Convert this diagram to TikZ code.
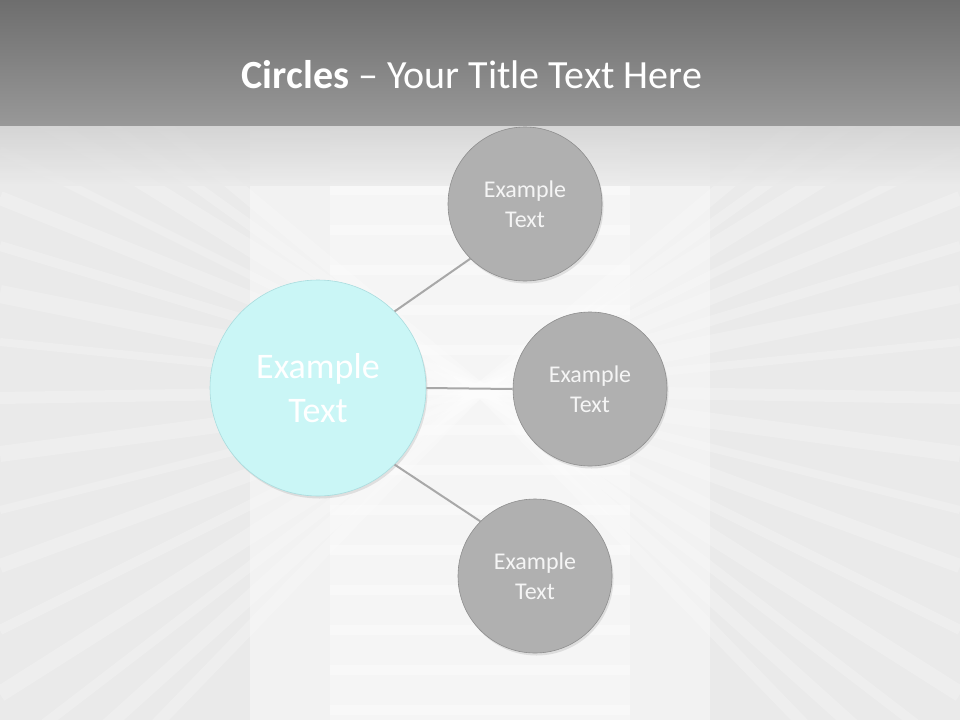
\documentclass[tikz,border=0pt]{standalone}
\usepackage{fontspec}
\setmainfont{Carlito}
\usetikzlibrary{shadows}
\definecolor{barTop}{HTML}{6E6E6E}
\definecolor{barBot}{HTML}{989898}
\definecolor{bgBase}{HTML}{EAEAEA}
\definecolor{bgLight}{HTML}{F6F6F6}
\definecolor{bgTop}{HTML}{CFCFCF}
\definecolor{aquaFill}{HTML}{CAF6F6}
\definecolor{aquaEdge}{HTML}{A9DCDE}
\definecolor{greyFill}{HTML}{B0B0B0}
\definecolor{greyEdge}{HTML}{8E8E8E}
\definecolor{linkGrey}{HTML}{A8A8A8}
\tikzset{
  bigcircle/.style={circle, minimum size=216pt, inner sep=0pt,
    fill=aquaFill, draw=aquaEdge, line width=0.6pt,
    drop shadow={opacity=0.2, shadow xshift=1.5pt, shadow yshift=-2.5pt},
    text=white, align=center, font=\fontsize{36}{44}\selectfont},
  smallcircle/.style={circle, minimum size=154pt, inner sep=0pt,
    fill=greyFill, draw=greyEdge, line width=0.6pt,
    drop shadow={opacity=0.2, shadow xshift=1.5pt, shadow yshift=-2.5pt},
    text=white!96!black, align=center, font=\fontsize{24}{30}\selectfont},
  link/.style={draw=linkGrey, line width=2pt},
  streak/.style={white, line cap=butt},
}
\begin{document}
\begin{tikzpicture}[x=1pt, y=-1pt]
\useasboundingbox (0,0) rectangle (960,720);
% background
\fill[bgBase] (0,125) rectangle (960,720);
\begin{scope}
\clip (0,125) rectangle (960,720);
\fill[bgLight, opacity=0.7] (250,125) rectangle (710,720);
\foreach \y/\w in {140/14,175/10,205/16,240/8,270/14,300/10,330/18,360/8,395/12,430/16,465/8,500/14,540/10,580/16,620/10,660/14,700/12}{
  \draw[streak, line width=\w pt, opacity=0.22] (480,390) -- (0,{390+(\y-390)*1.6});
  \draw[streak, line width=\w pt, opacity=0.22] (480,390) -- (960,{390+(\y-390)*1.6});
}
\foreach \y in {150,190,230,270,310,350,390,430,470,510,550,590,630,670,710}{
  \draw[white, line width=10pt, opacity=0.3] (330,\y) -- (630,\y);
}
\fill[white, opacity=0.3] (330,125) rectangle (630,720);
\shade[top color=bgTop, bottom color=bgBase, opacity=0.8] (0,125) rectangle (960,185);
\end{scope}
% title bar
\shade[top color=barTop, bottom color=barBot] (0,0) rectangle (960,125);
\node[text=white, font=\fontsize{40}{48}\selectfont, anchor=base] (title) at (472,88)
  {\textbf{Circles} – Your Title Text Here};
% circles
\node[bigcircle] (big) at (318,388) {Example\\Text};
\node[smallcircle] (top) at (525,204) {Example\\Text};
\node[smallcircle] (mid) at (590,389) {Example\\Text};
\node[smallcircle] (bot) at (535,576) {Example\\Text};
% connectors
\draw[link] (big.45) -- (top.225);
\draw[link] (big.east) -- (mid.west);
\draw[link] (big.-45) -- (bot.135);
\end{tikzpicture}
\end{document}
